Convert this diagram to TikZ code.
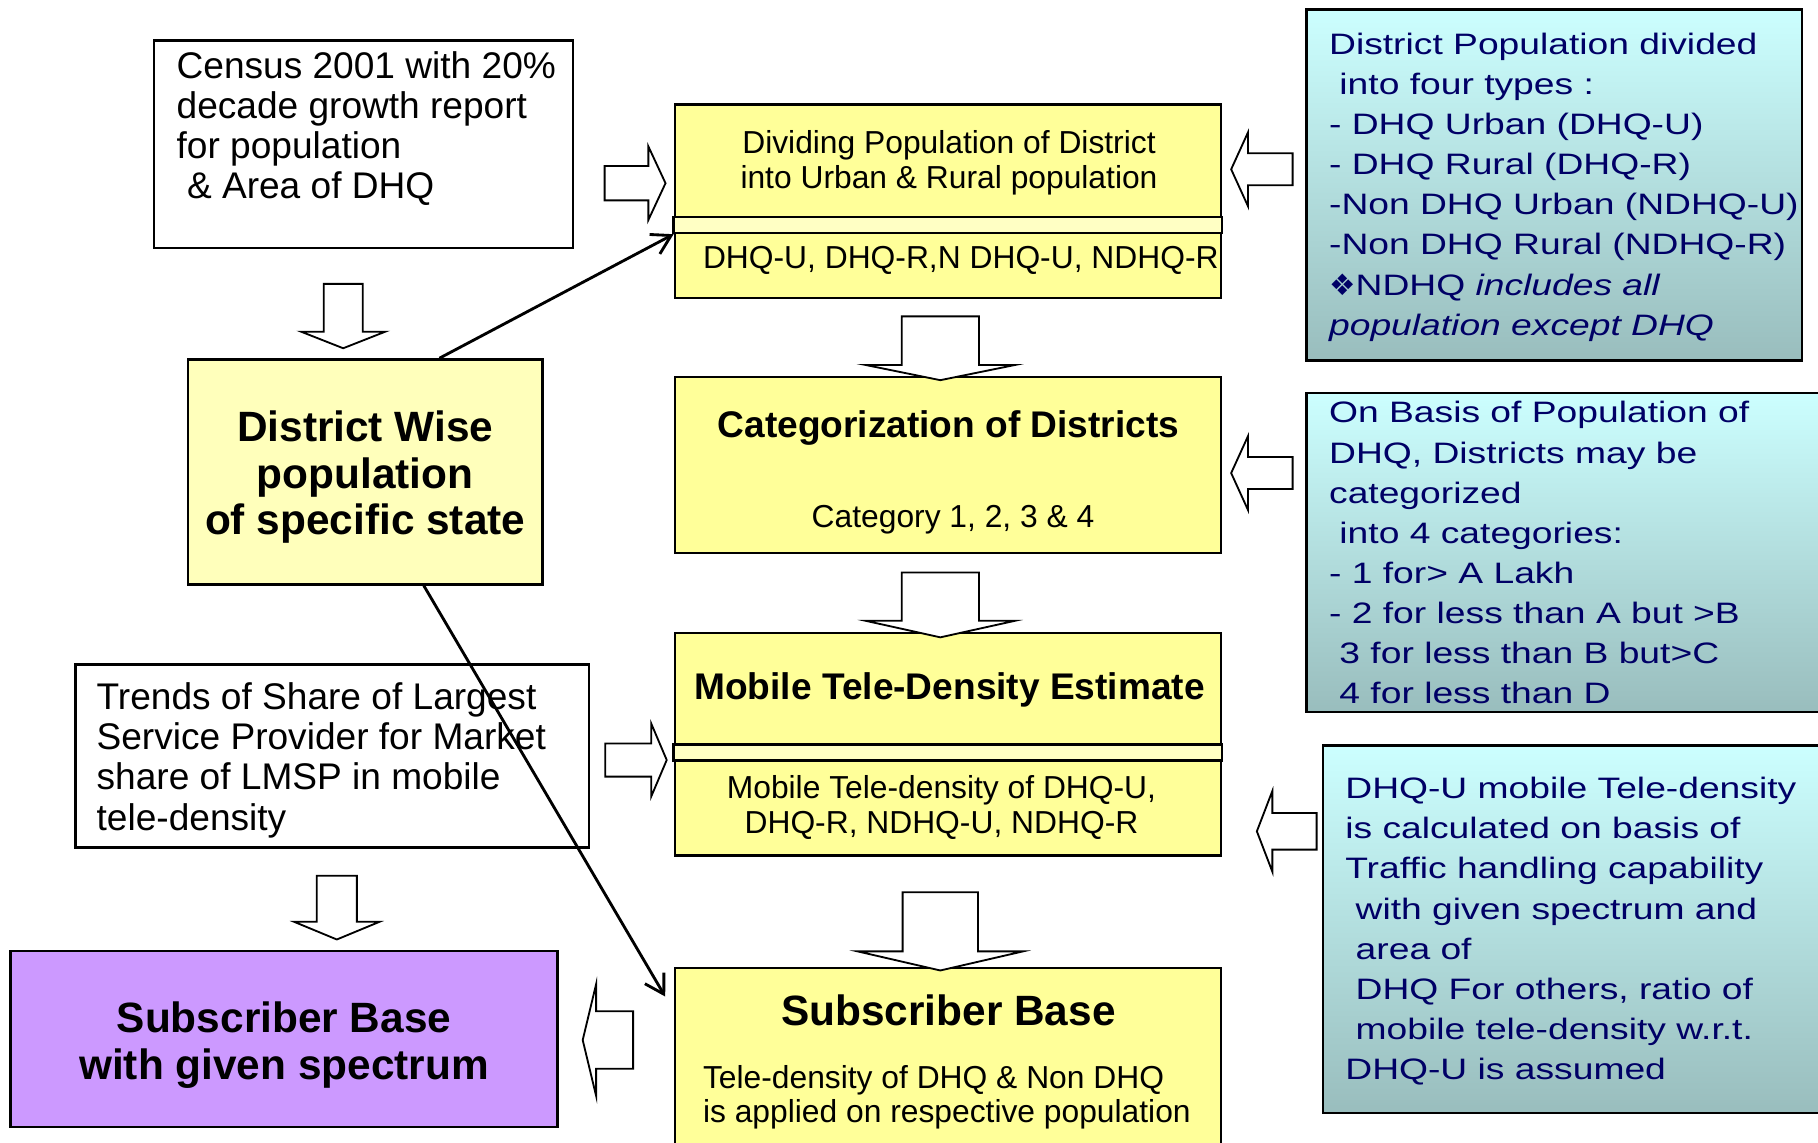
\documentclass[tikz,border=0pt]{standalone}
\usepackage{fontspec}
\setmainfont{Liberation Sans}
\newfontfamily\widefont[FakeStretch=1.26]{Liberation Sans}
\newfontfamily\dingfont{DejaVu Sans}
\usetikzlibrary{arrows.meta,shapes.arrows}

\definecolor{boxyellow}{HTML}{FFFF99}
\definecolor{lightyellow}{HTML}{FFFFBB}
\definecolor{bandyellow}{HTML}{FFFFC4}
\definecolor{lilac}{HTML}{CC99FF}
\definecolor{notetop}{HTML}{CCFFFF}
\definecolor{notebottom}{HTML}{99BDBD}
\definecolor{navy}{HTML}{000066}

\newcommand{\txtbig}{\fontsize{18.2}{19.7}\selectfont}
\newcommand{\txtmid}{\fontsize{15.6}{17.1}\selectfont}
\newcommand{\hdmid}{\fontsize{18.2}{20}\selectfont\bfseries}
\newcommand{\hdbig}{\fontsize{20.8}{22.8}\selectfont\bfseries}
\newcommand{\notetxt}{\widefont\fontsize{14.5}{19.7}\selectfont}

\begin{document}
\begin{tikzpicture}[x=0.2mm,y=-0.2mm,
    box/.style={draw, line width=1.2pt, inner sep=0pt},
    ybox/.style={box, fill=boxyellow, minimum width=94.2mm},
    note/.style={box, top color=notetop, bottom color=notebottom},
    band/.style={draw, line width=1.2pt, fill=bandyellow},
    txt/.style={inner sep=0pt, align=left},
    blockarrow/.style={single arrow, draw, fill=white, line width=0.9pt, inner sep=0pt},
    conn/.style={line width=1.4pt, -{Straight Barb[length=3.2mm,width=3.8mm]}}]
    \useasboundingbox (0,0) rectangle (1568,985);

    % left column
    \node[box, minimum width=72.2mm, minimum height=35.8mm] (census) at (313.5,124.5) {};
    \node[txt, anchor=north west, font=\txtbig] (censustxt) at (152,44) {Census 2001 with 20\%\\decade growth report\\for population\\\hspace*{0.28em}\& Area of DHQ};
    \node[box, fill=lightyellow, minimum width=61.2mm, minimum height=38.8mm] (dist) at (315,407) {};
    \node[txt, align=center, anchor=north, font=\hdbig] (disttxt) at (315,354) {District Wise\\population\\of specific state};
    \node[box, minimum width=88.6mm, minimum height=31.6mm] (trends) at (286.5,652) {};
    \node[txt, anchor=north west, font=\txtbig] (trendstxt) at (83,588.5) {Trends of Share of Largest\\Service Provider for Market\\share of LMSP in mobile\\tele-density};
    \node[box, fill=lilac, minimum width=94.4mm, minimum height=30.4mm] (given) at (245,896) {};
    \node[txt, align=center, anchor=north, font=\hdbig] (giventxt) at (245,864) {Subscriber Base\\with given spectrum};

    % middle column
    \node[ybox, minimum height=33.4mm] (div) at (817.5,173.5) {};
    \draw[band] ([yshift=-2.7mm]div.west) rectangle ([yshift=-5.5mm]div.east);
    \node[txt, align=center, anchor=north, font=\txtmid] (divtxt) at (818.5,112.2) {Dividing Population of District\\into Urban \& Rural population};
    \node[txt, anchor=base west, font=\txtmid] (divtypes) at (606,231.8) {DHQ-U, DHQ-R,N DHQ-U, NDHQ-R};

    \node[ybox, minimum height=30.4mm] (cat) at (817.5,401) {};
    \node[txt, anchor=base, font=\hdmid] (cattitle) at (818,377.5) {Categorization of Districts};
    \node[txt, anchor=base, font=\txtmid] (catlist) at (822,454.8) {Category 1, 2, 3 \& 4};

    \node[ybox, minimum height=38.4mm] (mob) at (817.5,642) {};
    \draw[band] (mob.west) rectangle ([yshift=-2.8mm]mob.east);
    \node[txt, anchor=base, font=\hdmid] (mobtitle) at (819,603.5) {Mobile Tele-Density Estimate};
    \node[txt, align=center, anchor=north, font=\txtmid] (mobtxt) at (812,668.2) {Mobile Tele-density of DHQ-U,\\DHQ-R, NDHQ-U, NDHQ-R};

    \node[ybox, minimum height=33mm] (sub) at (817.5,917.5) {};
    \node[txt, anchor=base, font=\hdbig] (subtitle) at (818,884.1) {Subscriber Base};
    \node[txt, anchor=north west, font=\txtmid] (subtxt) at (606,918.2) {Tele-density of DHQ \& Non DHQ\\is applied on respective population};

    % right column
    \node[note, minimum width=85.4mm, minimum height=60.6mm] (typesnote) at (1340.5,159.5) {};
    \node[txt, anchor=north west, font=\notetxt, text=navy] (typestxt) at (1146,28) {District Population divided\\\hspace*{0.35em}into four types :\\- DHQ Urban (DHQ-U)\\- DHQ Rural (DHQ-R)\\-Non DHQ Urban (NDHQ-U)\\-Non DHQ Rural (NDHQ-R)\\{\dingfont ❖}NDHQ \textit{includes all}\\\textit{population except DHQ}};
    \node[note, minimum width=90.6mm, minimum height=55mm] (catnote) at (1353.5,476.5) {};
    \node[txt, anchor=north west, font=\notetxt, text=navy] (cattxt) at (1146,346) {On Basis of Population of\\DHQ, Districts may be\\categorized\\\hspace*{0.35em}into 4 categories:\\- 1 for> A Lakh\\- 2 for less than A but >B\\\hspace*{0.35em}3 for less than B but>C\\\hspace*{0.35em}4 for less than D};
    \node[note, minimum width=87.8mm, minimum height=63.4mm] (densnote) at (1360.5,801.5) {};
    \node[txt, anchor=north west, font=\notetxt, text=navy] (denstxt) at (1160,670) {DHQ-U mobile Tele-density\\is calculated on basis of\\Traffic handling capability\\\hspace*{0.35em}with given spectrum and\\\hspace*{0.35em}area of\\\hspace*{0.35em}DHQ For others, ratio of\\\hspace*{0.35em}mobile tele-density w.r.t.\\DHQ-U is assumed};

    % block arrows
    \node[blockarrow, minimum height=10.5mm, inner ysep=2.8mm, single arrow head extend=3.4mm, single arrow tip angle=130] (censusarrow) at (544.3,158) {};
    \node[blockarrow, rotate=-90, minimum height=11.1mm, inner ysep=3.2mm, single arrow head extend=3.9mm, single arrow tip angle=137] (censusdown) at (296,269.3) {};
    \node[blockarrow, rotate=-90, minimum height=11mm, inner ysep=6.5mm, single arrow head extend=6.2mm, single arrow tip angle=157] (divdown) at (811,297) {};
    \node[blockarrow, rotate=-90, minimum height=11.2mm, inner ysep=6.5mm, single arrow head extend=6.2mm, single arrow tip angle=155] (catdown) at (811,518) {};
    \node[blockarrow, rotate=-90, minimum height=13.5mm, inner ysep=6.35mm, single arrow head extend=7.75mm, single arrow tip angle=154] (mobdown) at (811,799.5) {};
    \node[blockarrow, minimum height=10.6mm, inner ysep=2.7mm, single arrow head extend=3.4mm, single arrow tip angle=134] (trendsarrow) at (545.5,655.5) {};
    \node[blockarrow, rotate=180, minimum height=8.7mm, inner ysep=4.8mm, single arrow head extend=4.7mm, single arrow tip angle=153] (subleft) at (527.3,897) {};
    \node[blockarrow, rotate=-90, minimum height=11mm, inner ysep=3.3mm, single arrow head extend=3.9mm, single arrow tip angle=135] (trendsdown) at (290.5,779.2) {};
    \node[blockarrow, rotate=180, minimum height=10.6mm, inner ysep=2.6mm, single arrow head extend=3.6mm, single arrow tip angle=131] (typesleft) at (1091.5,146) {};
    \node[blockarrow, rotate=180, minimum height=10.6mm, inner ysep=2.6mm, single arrow head extend=3.6mm, single arrow tip angle=131] (catleft) at (1091.5,408) {};
    \node[blockarrow, rotate=180, minimum height=10.3mm, inner ysep=3mm, single arrow head extend=3.8mm, single arrow tip angle=138] (densleft) at (1112.8,717) {};

    % connectors
    \draw[conn] ([xshift=12.8mm]dist.north) -- ([yshift=-5.7mm]div.west);
    \draw[conn] ([xshift=10.1mm]dist.south) -- ([xshift=-1.44mm,yshift=11.6mm]sub.west);

\end{tikzpicture}
\end{document}
